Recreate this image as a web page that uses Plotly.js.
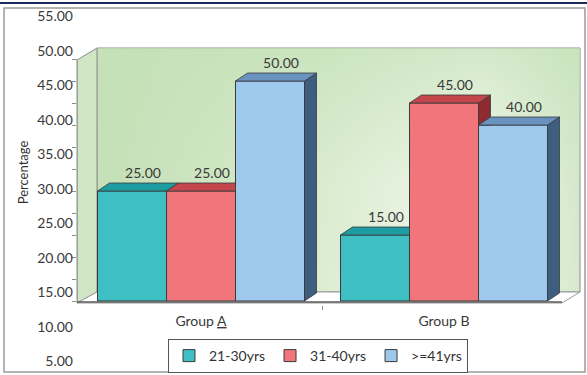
<!DOCTYPE html>
<html>
<head>
<meta charset="utf-8">
<script src="https://cdn.plot.ly/plotly-3.0.1.min.js"></script>
<style>
  html, body { margin: 0; padding: 0; background: #ffffff; }
  #chart { width: 587px; height: 375px; }
</style>
</head>
<body>
<div id="chart"></div>
<script>
// Share of each age band within the two groups
const groups = ['Group <u>A</u>', 'Group B'];
const ageBands = ['21-30yrs', '31-40yrs', '>=41yrs'];
const age21to30 = [25, 15];
const age31to40 = [25, 45];
const age41plus = [50, 40];
const percentTicks = [5, 10, 15, 20, 25, 30, 35, 40, 45, 50, 55];
const barTicks = [0, 5, 10, 15, 20, 25, 30, 35, 40, 45, 50, 55];

const FONT = 'Lato, "Open Sans", "DejaVu Sans", sans-serif';
const TEXT = '#3a3a3a';

// colours of the front, top and side faces of each band
const bands = [
  { name: ageBands[0], values: age21to30, front: '#3dbfc4', top: '#1d9ca1', side: '#15777c' },
  { name: ageBands[1], values: age31to40, front: '#f1767b', top: '#c2464c', side: '#8e2b31' },
  { name: ageBands[2], values: age41plus, front: '#9ec8ec', top: '#6a92bf', side: '#3e5e80' }
];

// ---- page geometry ----
const W = 587, H = 375;
const M = { l: 77, r: 2, t: 10, b: 5 };
const PW = W - M.l - M.r, PH = H - M.t - M.b;
const BAR_TOP = 40, BAR_BOT = 305;           // vertical span of the bar subplot (px)
const X_RANGE = [-124 / 243, 384 / 243];
const Y_RANGE = [-4 / 4.4, 261 / 4.4];
const LABEL_RANGE = [3.74, 55.95];            // scale of the printed percentage labels

const xPerPx = (X_RANGE[1] - X_RANGE[0]) / PW;
const yPerPx = (Y_RANGE[1] - Y_RANGE[0]) / (BAR_BOT - BAR_TOP);
const toX = px => X_RANGE[0] + (px - M.l) * xPerPx;
const toY = py => Y_RANGE[0] + (BAR_BOT - py) * yPerPx;
const paperX = px => (px - M.l) / PW;
const paperY = py => (H - M.b - py) / PH;

// bar footprint and pseudo-3D depth
const BW = 69 / 243;
const offsets = bands.map((_, i) => (i - bands.length / 2) * BW);
const DX = 12 * xPerPx, DY = 8 * yPerPx;
const LBL_DX = 11 * xPerPx, LBL_DY = 17 * yPerPx;

function pxPoly(pts) {
  const closed = pts.concat([pts[0]]);
  return { x: closed.map(p => toX(p[0])), y: closed.map(p => toY(p[1])) };
}

function deco(poly, extra) {
  return Object.assign({
    type: 'scatter', mode: 'lines', fill: 'toself', x: poly.x, y: poly.y,
    hoverinfo: 'skip', showlegend: false
  }, extra);
}

// ---- walls and floor (base subplot) ----
const backWall = pxPoly([[97, 48], [580, 48], [580, 292], [97, 292]]);
const sideWall = pxPoly([[77, 60], [97, 48], [97, 292], [77, 303]]);
const floor = pxPoly([[77, 303], [97, 292], [580, 292], [562, 303]]);

const traces = [
  deco(backWall, {
    line: { color: '#8c8c8c', width: 1 },
    fillgradient: {
      type: 'horizontal',
      colorscale: [[0, '#c4e0b6'], [0.45, '#dbecd1'], [0.8, '#f7fbf4'], [1, '#d6e9cd']]
    }
  }),
  deco(backWall, {
    line: { width: 0 },
    fillgradient: {
      type: 'vertical',
      colorscale: [[0, 'rgba(196,225,183,0)'], [0.45, 'rgba(196,225,183,0.12)'], [1, 'rgba(196,225,183,0.7)']]
    }
  }),
  deco(sideWall, { fillcolor: '#cfe5c3', line: { color: '#8c8c8c', width: 1 } }),
  deco(floor, { fillcolor: '#ffffff', line: { color: '#9a9a9a', width: 1 } })
];

// ---- bars (overlay subplot) ----
bands.forEach((b, i) => {
  traces.push({
    type: 'bar', name: b.name, x: groups.map((_, g) => g), y: b.values,
    offset: offsets[i], width: BW, xaxis: 'x2', yaxis: 'y2',
    marker: { color: b.front, line: { color: '#3a3a3a', width: 1 } },
    hoverinfo: 'y+name'
  });
});

// top and side faces, hidden where the next bar of the group stands in front
function faces(i) {
  const b = bands[i], nb = bands[i + 1];
  const top = { x: [], y: [] }, side = { x: [], y: [] };
  const add = (t, pts) => {
    pts.concat([pts[0]]).forEach(p => { t.x.push(p[0]); t.y.push(p[1]); });
    t.x.push(null); t.y.push(null);
  };
  groups.forEach((_, g) => {
    const v = b.values[g];
    const xl = g + offsets[i], xr = xl + BW;
    const next = nb ? nb.values[g] : null;
    if (next !== null && next > v) add(top, [[xl, v], [xr, v], [xr, v + DY], [xl + DX, v + DY]]);
    else add(top, [[xl, v], [xr, v], [xr + DX, v + DY], [xl + DX, v + DY]]);
    if (next === null) add(side, [[xr, v], [xr + DX, v + DY], [xr + DX, DY], [xr, 0]]);
    else if (next < v) add(side, [[xr, v], [xr + DX, v + DY], [xr + DX, next], [xr, next]]);
  });
  return { top, side };
}

bands.forEach((b, i) => {
  const f = faces(i);
  traces.push({
    type: 'scatter', mode: 'lines', fill: 'toself', x: f.side.x, y: f.side.y,
    xaxis: 'x2', yaxis: 'y2', fillcolor: b.side, line: { color: '#3a3a3a', width: 0.8 },
    hoverinfo: 'skip', showlegend: false
  });
  traces.push({
    type: 'scatter', mode: 'lines', fill: 'toself', x: f.top.x, y: f.top.y,
    xaxis: 'x2', yaxis: 'y2', fillcolor: b.top, line: { color: '#3a3a3a', width: 0.8 },
    hoverinfo: 'skip', showlegend: false
  });
});

// value labels
bands.forEach((b, i) => {
  traces.push({
    type: 'scatter', mode: 'text', xaxis: 'x2', yaxis: 'y2',
    x: groups.map((_, g) => g + offsets[i] + BW / 2 + LBL_DX),
    y: b.values.map(v => v + LBL_DY),
    text: b.values.map(v => v.toFixed(2)),
    textposition: 'middle center',
    textfont: { family: FONT, size: 14, color: TEXT },
    cliponaxis: false, hoverinfo: 'skip', showlegend: false
  });
});

// carrier for the printed percentage scale
traces.push({
  type: 'scatter', mode: 'markers', x: [null], y: [null], xaxis: 'x3', yaxis: 'y3',
  hoverinfo: 'skip', showlegend: false
});

const barDomain = [paperY(BAR_BOT), paperY(BAR_TOP)];

const layout = {
  width: W, height: H,
  margin: M,
  paper_bgcolor: '#ffffff',
  plot_bgcolor: 'rgba(0,0,0,0)',
  barmode: 'overlay',
  font: { family: FONT, size: 14, color: TEXT },
  showlegend: true,
  legend: {
    orientation: 'h', x: paperX(318), xanchor: 'center', y: paperY(339), yanchor: 'top',
    bgcolor: '#ffffff', bordercolor: '#555555', borderwidth: 1,
    font: { family: FONT, size: 14, color: '#333333' }, traceorder: 'normal'
  },
  xaxis: {
    domain: [0, 1], anchor: 'y', range: X_RANGE, fixedrange: true,
    tickmode: 'array', tickvals: groups.map((_, g) => g), ticktext: groups,
    ticks: '', showgrid: false, zeroline: false, showline: false,
    ticklabelstandoff: 6,
    tickfont: { family: FONT, size: 14, color: TEXT },
    minor: { tickvals: [0.5], ticks: 'outside', ticklen: 4, tickcolor: '#8c8c8c', showgrid: false }
  },
  yaxis: {
    domain: barDomain, anchor: 'x', range: Y_RANGE, fixedrange: true,
    tickmode: 'array', tickvals: barTicks, showticklabels: false,
    ticks: 'outside', ticklen: 4, tickwidth: 1, tickcolor: '#8c8c8c',
    showgrid: false, zeroline: false, showline: false,
    title: { text: 'Percentage', standoff: 40, font: { family: FONT, size: 13, color: '#333333' } }
  },
  xaxis2: { overlaying: 'x', anchor: 'y2', range: X_RANGE, visible: false, fixedrange: true },
  yaxis2: { overlaying: 'y', anchor: 'x2', range: Y_RANGE, visible: false, fixedrange: true },
  xaxis3: { domain: [0, 0.01], anchor: 'y3', range: [0, 1], visible: false, fixedrange: true },
  yaxis3: {
    domain: [0, 1], anchor: 'x3', range: LABEL_RANGE, fixedrange: true,
    tickmode: 'array', tickvals: percentTicks, ticktext: percentTicks.map(v => v.toFixed(2)),
    ticks: '', ticklabelstandoff: 3, showgrid: false, zeroline: false, showline: false,
    tickfont: { family: FONT, size: 14, color: TEXT }
  },
  shapes: [
    // vertical axis line
    { type: 'line', xref: 'paper', yref: 'y', x0: 0, x1: 0, y0: toY(303), y1: 55,
      line: { color: '#8c8c8c', width: 1 } },
    // front edge of the floor
    { type: 'line', xref: 'x', yref: 'y', x0: toX(77), x1: toX(562), y0: toY(302), y1: toY(302),
      line: { color: '#5a5a5a', width: 1.5 } },
    // chart frame
    { type: 'rect', xref: 'paper', yref: 'paper', x0: paperX(4), x1: paperX(585), y0: paperY(372), y1: paperY(8),
      line: { color: '#9a9a9a', width: 1.5 }, layer: 'below' },
    { type: 'line', xref: 'paper', yref: 'paper', x0: paperX(0), x1: paperX(587), y0: paperY(3), y1: paperY(3),
      line: { color: '#1e2a5c', width: 2 } }
  ]
};

Plotly.newPlot('chart', traces, layout, { staticPlot: true, displayModeBar: false });
</script>
</body>
</html>
